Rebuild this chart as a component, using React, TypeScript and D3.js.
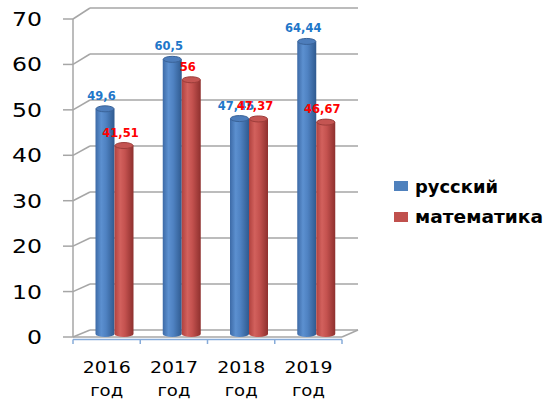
import React from "react";
import * as d3 from "d3";

const categories = ["2016", "2017", "2018", "2019"];
const seriesNames = ["русский", "математика"];
const russian = [49.6, 60.5, 47.45, 64.44];
const math = [41.51, 56, 47.37, 46.67];
const yTicks = [0, 10, 20, 30, 40, 50, 60, 70];

const W = 545, H = 400;
const depthX = 17, depthY = 7;
const frontLeft = 73, frontRight = 342;

export default function App() {
  const xBand = d3.scaleBand<string>().domain(categories).range([frontLeft, frontRight]).paddingInner(0).paddingOuter(0);
  const inner = d3.scaleBand<string>().domain(seriesNames).range([22.5, 60.5]).padding(0);
  const yFront = d3.scaleLinear().domain([0, 70]).range([337, 19]);
  const yBack = d3.scaleLinear().domain([0, 70]).range([330, 8]);
  const yBar = d3.scaleLinear().domain([0, 70]).range([334, 334 - 70 * 4.54]);

  const series = [
    { name: seriesNames[0], values: russian, grad: "gBlue", top: "#4d7dbb", topStroke: "#3a6398", label: "#1f77c9", sw: "#4f81bd" },
    { name: seriesNames[1], values: math, grad: "gRed", top: "#c45552", topStroke: "#9c3d3a", label: "#ff0000", sw: "#c0504d" },
  ];
  const grid = "#a6a6a6";
  const ry = 3;

  return (
    <svg width={W} height={H} style={{ position: "absolute", left: 0, top: 0 }} xmlns="http://www.w3.org/2000/svg">
      <defs>
        <linearGradient id="gBlue" x1="0" x2="1" y1="0" y2="0">
          <stop offset="0" stopColor="#3d6aa6" />
          <stop offset="0.3" stopColor="#5c90d0" />
          <stop offset="0.55" stopColor="#4f82c2" />
          <stop offset="1" stopColor="#2f5a8f" />
        </linearGradient>
        <linearGradient id="gRed" x1="0" x2="1" y1="0" y2="0">
          <stop offset="0" stopColor="#b0423f" />
          <stop offset="0.3" stopColor="#d2615d" />
          <stop offset="0.55" stopColor="#c4524f" />
          <stop offset="1" stopColor="#8e302e" />
        </linearGradient>
      </defs>
      <rect width={W} height={H} fill="#ffffff" />
      {/* gridlines on back wall + left wall obliques + ticks */}
      {yTicks.map((t) => (
        <g key={t}>
          <line x1={frontLeft + depthX} x2={frontRight + depthX - 1} y1={yBack(t)} y2={yBack(t)} stroke={grid} strokeWidth={1.5} />
          <line x1={frontLeft} x2={frontLeft + depthX} y1={yFront(t)} y2={yBack(t)} stroke={grid} strokeWidth={1.5} />
          <line x1={63} x2={frontLeft} y1={yFront(t)} y2={yFront(t)} stroke={grid} strokeWidth={1.5} />
          <text x={42} y={yFront(t) + 7} textAnchor="end" fontFamily="DejaVu Sans" fontSize={19} fill="#000"
            textLength={String(t).length * 15} lengthAdjust="spacingAndGlyphs">{t}</text>
        </g>
      ))}
      <line x1={frontLeft} x2={frontLeft} y1={yFront(70)} y2={yFront(0)} stroke={grid} strokeWidth={1.5} />
      {/* floor */}
      <line x1={frontLeft} x2={frontRight} y1={yFront(0)} y2={yFront(0)} stroke={grid} strokeWidth={1.5} />
      <line x1={frontRight} x2={frontRight + depthX - 1} y1={yFront(0)} y2={yBack(0)} stroke={grid} strokeWidth={1.5} />
      {/* bars */}
      {categories.map((c, i) => (
        <g key={c}>
          {series.map((s) => {
            const x0 = (xBand(c) as number) + (inner(s.name) as number);
            const bw = inner.bandwidth();
            const cx = x0 + bw / 2;
            const yt = yBar(s.values[i]);
            const yb = yBar(0);
            const rx = bw / 2;
            const d = `M${x0},${yt} L${x0},${yb} A${rx},${ry} 0 0 0 ${x0 + bw},${yb} L${x0 + bw},${yt} Z`;
            return (
              <g key={s.name}>
                <path d={d} fill={`url(#${s.grad})`} />
                <ellipse cx={cx} cy={yt} rx={rx - 0.5} ry={ry} fill={s.top} stroke={s.topStroke} strokeWidth={1} />
              </g>
            );
          })}
        </g>
      ))}
      {/* value labels */}
      {series.map((s) =>
        categories.map((c, i) => {
          const x0 = (xBand(c) as number) + (inner(s.name) as number);
          const cx = x0 + inner.bandwidth() / 2 - 3.5;
          return (
            <text key={s.name + c} x={cx} y={yBar(s.values[i]) - 9} textAnchor="middle" fontFamily="DejaVu Sans"
              fontWeight="bold" fontSize={11.5} fill={s.label}>
              {String(s.values[i]).replace(".", ",")}
            </text>
          );
        })
      )}
      {/* front x axis */}
      <line x1={frontLeft} x2={frontRight} y1={339.5} y2={339.5} stroke="#86abd9" strokeWidth={1.5} />
      {[...categories.map((c) => xBand(c) as number), frontRight].map((x, i) => (
        <line key={i} x1={x} x2={x} y1={339.5} y2={344} stroke="#86abd9" strokeWidth={1.5} />
      ))}
      {categories.map((c) => {
        const cx = (xBand(c) as number) + xBand.bandwidth() / 2;
        return (
          <g key={c}>
            <text x={cx} y={373} textAnchor="middle" fontFamily="DejaVu Sans" fontSize={16} fill="#000"
              textLength={48} lengthAdjust="spacingAndGlyphs">{c}</text>
            <text x={cx} y={396} textAnchor="middle" fontFamily="DejaVu Sans" fontSize={16} fill="#000"
              textLength={33} lengthAdjust="spacingAndGlyphs">год</text>
          </g>
        );
      })}
      {/* legend */}
      {series.map((s, i) => (
        <g key={s.name}>
          <rect x={394} y={181 + i * 31} width={14} height={10} fill={s.sw} />
          <text x={415} y={193 + i * 30} fontFamily="DejaVu Sans" fontWeight="bold" fontSize={18} fill="#000"
            textLength={i === 0 ? 83 : 128} lengthAdjust="spacingAndGlyphs">{s.name}</text>
        </g>
      ))}
    </svg>
  );
}
